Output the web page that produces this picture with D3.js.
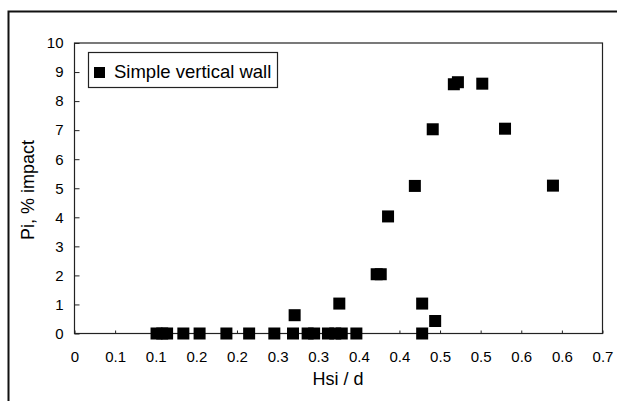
<html>
<head>
<meta charset="utf-8">
<script src="https://d3js.org/d3.v7.min.js"></script>
<style>
  body { margin: 0; background: #fff; }
  text { font-family: "Liberation Sans", Arial, sans-serif; fill: #000; }
</style>
</head>
<body>
<svg class="chart"></svg>
<script>
// Hsi/d vs Pi (% impact), simple vertical wall
var hsi = [0.101, 0.108, 0.114, 0.134, 0.154, 0.187, 0.215, 0.246, 0.269, 0.287,
           0.295, 0.312, 0.321, 0.329, 0.347, 0.428,
           0.271, 0.326, 0.428, 0.444, 0.372, 0.377, 0.386, 0.419, 0.441,
           0.467, 0.472, 0.502, 0.530, 0.589];
var pi  = [0, 0, 0, 0, 0, 0, 0, 0, 0, 0,
           0, 0, 0, 0, 0, 0,
           0.63, 1.03, 1.03, 0.43, 2.04, 2.04, 4.03, 5.08, 7.03,
           8.58, 8.65, 8.6, 7.05, 5.09];

var xTicks = [0, 0.05, 0.1, 0.15, 0.2, 0.25, 0.3, 0.35, 0.4, 0.45, 0.5, 0.55, 0.6, 0.65];
var xTickLabels = ["0", "0.1", "0.1", "0.2", "0.2", "0.3", "0.3", "0.4", "0.4", "0.5", "0.5", "0.6", "0.6", "0.7"];
var yTicks = [0, 1, 2, 3, 4, 5, 6, 7, 8, 9, 10];

var seriesName = "Simple vertical wall";

var W = 617, H = 401;
var chart = d3.select(".chart").attr("width", W).attr("height", H);

// outer frame (only top and left edges show in the picture)
chart.append("rect")
    .attr("x", 8.5).attr("y", 11.5)
    .attr("width", W + 20).attr("height", H + 20)
    .attr("fill", "none").attr("stroke", "#111").attr("stroke-width", 2);

var x = d3.scaleLinear().domain([0, 0.65]).range([74.5, 602.5]);
var y = d3.scaleLinear().domain([0, 10]).range([333.5, 43]);

// plot box
chart.append("rect")
    .attr("x", x(0)).attr("y", y(10))
    .attr("width", x(0.65) - x(0)).attr("height", y(0) - y(10))
    .attr("fill", "none").attr("stroke", "#222").attr("stroke-width", 1.2);

var xAxis = d3.axisBottom(x)
    .tickValues(xTicks)
    .tickFormat(function(d, i) { return xTickLabels[i]; })
    .tickSizeInner(-3).tickSizeOuter(0).tickPadding(18);

var gx = chart.append("g").attr("transform", "translate(0," + y(0) + ")").call(xAxis);
gx.select(".domain").remove();
gx.selectAll("text").style("font-size", "15px").attr("fill", "#000");
gx.selectAll("line").attr("stroke", "#222");

var yAxis = d3.axisLeft(y)
    .tickValues(yTicks)
    .tickSizeInner(-5).tickSizeOuter(0).tickPadding(11);

var gy = chart.append("g").attr("transform", "translate(" + x(0) + ",0)").call(yAxis);
gy.select(".domain").remove();
gy.selectAll("text").style("font-size", "15px").attr("fill", "#000");
gy.selectAll("line").attr("stroke", "#222");

// axis titles
chart.append("text")
    .attr("x", 338).attr("y", 385)
    .style("font-size", "18px").style("text-anchor", "middle")
    .text("Hsi / d");

chart.append("text")
    .attr("transform", "translate(34,190) rotate(-90)")
    .style("font-size", "18px").style("text-anchor", "middle")
    .text("Pi, % impact");

// points
var pts = hsi.map(function(d, i) { return { x: d, y: pi[i] }; });
var sz = 12;
chart.selectAll("rect.pt")
    .data(pts)
    .enter().append("rect")
    .attr("class", "pt")
    .attr("x", function(d) { return x(d.x) - sz / 2; })
    .attr("y", function(d) { return y(d.y) - sz / 2; })
    .attr("width", sz).attr("height", sz)
    .attr("fill", "#000");

// legend
var lg = chart.append("g");
lg.append("rect")
    .attr("x", 88.5).attr("y", 52.5).attr("width", 189).attr("height", 35)
    .attr("fill", "#fff").attr("stroke", "#222").attr("stroke-width", 1.2);
lg.append("rect")
    .attr("x", 94).attr("y", 67).attr("width", 11).attr("height", 11)
    .attr("fill", "#000");
lg.append("text")
    .attr("x", 114).attr("y", 78)
    .style("font-size", "18.5px")
    .text(seriesName);
</script>
</body>
</html>
